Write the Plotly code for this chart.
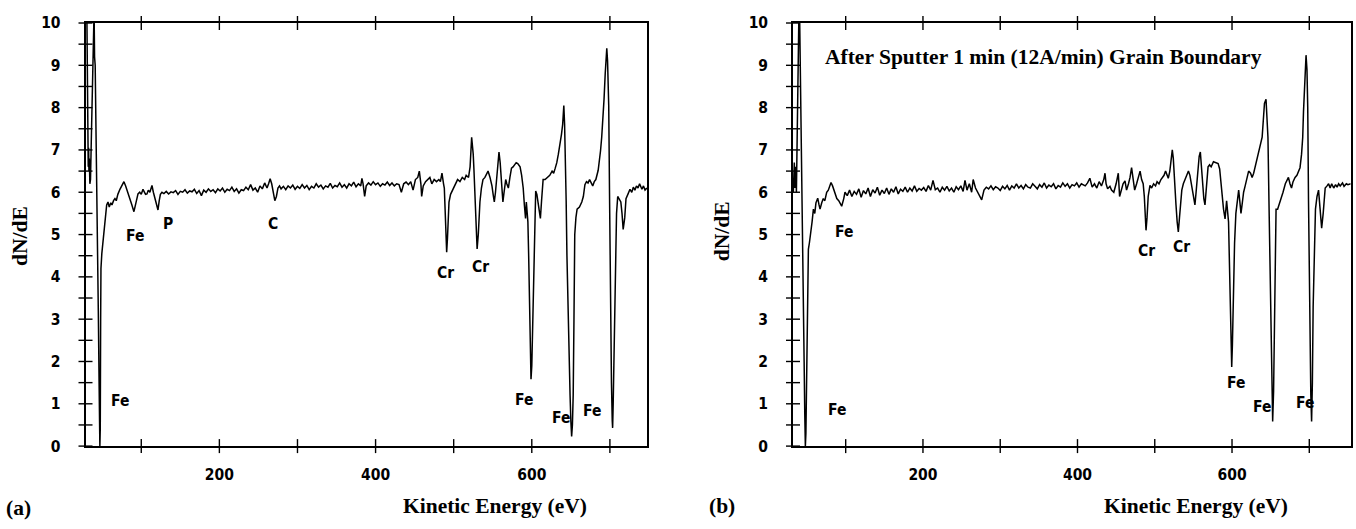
import plotly.graph_objects as go

# ---------------- data: panel (a) ----------------
energy_a = [30.3, 30.8, 31.2, 31.7, 32.1, 32.6, 33.0, 33.5, 34.2, 35.0, 36.0, 37.0, 38.0, 38.8, 39.6, 40.2, 41.0,
            42.0, 43.0, 44.0, 45.0, 46.0, 47.0, 47.5, 48.0, 48.4, 49.5, 51.3, 53.0, 54.4, 55.7, 57.4, 59.0,
            61.0, 62.5, 64.5, 66.3, 68.0, 70.0, 72.7, 75.0, 77.8, 80.0, 82.0, 84.0, 85.5, 88.0, 90.6, 93.0,
            95.8, 98.0, 100.0, 102.2, 104.0, 105.5, 107.3, 109.0, 111.0, 113.7, 115.5, 117.5, 119.5, 121.4,
            123.0, 124.5, 126.5,
            129, 132, 135, 138, 141, 144, 147, 150, 153, 156, 159, 162, 165, 168, 171, 174, 177, 180, 183,
            186, 189, 192, 195, 198, 201, 204, 207, 210, 213, 216, 219, 222, 225, 228, 231, 234, 237, 240,
            243, 246, 249, 252, 255, 258, 261, 263, 265, 267, 269, 271, 273, 275, 277, 279, 282, 285, 288,
            291, 294, 297, 300, 303, 306, 309, 312, 315, 318, 321, 324, 327, 330, 333, 336, 339, 342, 345,
            348, 351, 354, 357, 360, 363, 366, 369, 372, 375, 378, 381, 382.5, 384, 386, 388, 391, 394, 397,
            400, 403, 406, 409, 412, 415, 418, 421, 424, 427, 430, 433, 436, 439, 442, 445, 448, 451, 454,
            456, 458, 459, 461, 464, 467, 469.5, 472, 475, 478, 481, 483, 485, 487, 488, 489, 490, 491, 492,
            493, 494, 496, 499, 502, 505, 508, 511, 514, 516, 519, 521, 523, 524, 525, 526, 527, 528.5, 530,
            531.5, 533.6, 535.5, 537.5, 540, 542, 544, 546.5, 549, 550.5, 552, 553.5, 555, 556.5, 558, 559.5,
            561, 562, 563, 564.5, 566.6, 568, 570, 572, 574, 576, 578, 580, 582, 585, 587, 589, 590.5, 592,
            593, 594, 595, 596, 597, 598, 599, 600, 601, 602, 603, 604, 605, 606.5, 608, 609.5, 611, 612.5,
            614.5, 617, 620, 623, 626, 628, 630, 632, 634, 636, 638, 639.5, 641, 642, 643, 644, 645, 646,
            647.5, 649, 650, 651, 652, 653, 654, 655, 656.5, 658, 661, 664, 666, 668, 670, 672, 674, 676,
            678, 680, 682, 685, 686.5, 688, 689.5, 691, 692.5, 694, 695, 696, 697, 698.5, 699.5, 700.3, 701,
            702, 703, 703.5, 704.2, 705, 706, 707, 708.5, 710, 712, 714, 715.5, 717, 719, 720.6, 723, 725.7,
            728, 730, 732, 734, 736, 738, 741, 743, 745, 747.5]
dnde_a = [10.3, 9.2, 7.6, 7.0, 6.6, 7.05, 6.5, 6.8, 6.2, 6.3, 7.2, 8.4, 9.4, 10.3, 10.3, 9.2, 9.0,
          7.5, 6.3, 5.2, 3.2, 1.5, 0.0, 0.4, 3.0, 4.2, 4.55, 4.85, 5.2, 5.47, 5.7, 5.77, 5.65,
          5.75, 5.7, 5.8, 5.85, 5.8, 5.95, 6.07, 6.15, 6.25, 6.15, 6.05, 5.95, 5.85, 5.7, 5.54, 5.75,
          5.96, 6.0, 5.95, 6.07, 6.02, 5.95, 5.96, 6.05, 6.0, 6.16, 6.0, 5.85, 5.7, 5.58,
          5.8, 5.95, 6.0,
          5.97, 6.02, 5.96, 6.01, 5.99, 6.04, 5.95, 6.02, 6.0, 6.06, 5.98, 6.03, 6.01, 6.07, 5.97, 6.04, 5.92, 6.05, 6.0,
          6.08, 6.02, 6.06, 5.99, 6.08, 6.03, 6.1, 6.0, 6.07, 6.04, 6.12, 6.02, 6.08, 5.98, 6.06, 6.04, 6.12, 6.06, 6.18,
          6.05, 6.1, 6.0, 6.15, 6.08, 6.22, 6.1, 6.2, 6.32, 6.2, 5.95, 5.8, 5.9, 6.1, 6.15, 6.08, 6.14, 6.06, 6.15,
          6.1, 6.17, 6.07, 6.14, 6.09, 6.18, 6.1, 6.16, 6.06, 6.14, 6.1, 6.2, 6.12, 6.17, 6.08, 6.15, 6.12, 6.21, 6.1,
          6.16, 6.13, 6.22, 6.12, 6.18, 6.1, 6.2, 6.15, 6.24, 6.13, 6.2, 6.15, 6.33, 6.2, 5.9, 6.15, 6.22, 6.17, 6.25,
          6.18, 6.22, 6.14, 6.2, 6.17, 6.24, 6.16, 6.22, 6.15, 6.2, 6.18, 6.0, 6.2, 6.24, 6.18, 6.25, 6.05, 6.3, 6.35,
          6.5, 6.2, 5.9, 6.15, 6.25, 6.3, 6.35, 6.2, 6.3, 6.25, 6.3, 6.25, 6.45, 6.2, 6.1, 5.6, 4.9, 4.58, 4.9,
          5.4, 5.77, 5.95, 6.07, 6.15, 6.3, 6.25, 6.35, 6.3, 6.4, 6.35, 6.6, 7.3, 7.1, 6.9, 6.5, 6.07, 5.4, 4.66,
          5.0, 5.77, 6.1, 6.3, 6.35, 6.45, 6.5, 6.35, 6.15, 5.95, 5.77, 6.0, 6.35, 6.7, 6.95, 6.7,
          6.3, 6.0, 5.77, 6.0, 6.3, 6.2, 6.1, 6.35, 6.57, 6.6, 6.65, 6.7, 6.68, 6.6, 6.4, 6.1, 5.7, 5.38,
          5.77, 5.5, 5.3, 4.5, 3.2, 2.2, 1.58, 1.9, 2.7, 3.8, 5.0, 5.7, 6.03, 5.95, 5.77, 5.55, 5.38, 5.8,
          6.3, 6.3, 6.35, 6.4, 6.5, 6.45, 6.57, 6.7, 6.9, 7.1, 7.37, 7.6, 8.05, 7.6, 6.9, 5.8, 4.5, 3.48,
          2.3, 1.2, 0.6, 0.23, 0.5, 1.2, 3.0, 5.0, 5.4, 5.6, 5.65, 5.77, 5.9, 6.18, 6.25, 6.22, 6.3, 6.2,
          6.15, 6.25, 6.3, 6.52, 6.7, 6.98, 7.3, 7.67, 8.2, 8.8, 9.2, 9.4, 9.1, 8.05, 6.0, 4.0, 2.72,
          1.5, 0.6, 0.43, 1.0, 1.95, 3.3, 4.62, 5.5, 5.9, 5.85, 5.77, 5.5, 5.12, 5.4, 5.85, 5.95, 6.07,
          6.0, 6.12, 6.05, 6.15, 6.1, 6.2, 6.07, 6.15, 6.05, 6.1]

# ---------------- data: panel (b) ----------------
energy_b = [32.2, 32.8, 33.5, 34.2, 34.8, 35.5, 36.2, 37.0, 38.0, 38.7, 39.5, 40.5, 41.3, 41.8, 42.5, 43.5,
            44.5, 45.2, 46.2, 47.0, 47.8, 48.5, 49.5, 50.4, 51.0, 51.7, 53.0, 54.7, 56.5, 58.2, 60.0, 61.5,
            63.8, 65.5, 66.8, 69.0, 71.0, 73.0, 75.4, 77.5, 79.0, 81.0, 83.0, 84.5, 86.2, 88.5, 91.0, 93.5,
            94.8, 97.5, 99.1,
            102, 105, 108, 111, 114, 117, 120, 123, 126, 129, 132, 135, 138, 141, 144, 147, 150, 153, 156,
            159, 162, 165, 168, 171, 174, 177, 180, 183, 186, 189, 192, 195, 198, 201, 204, 207, 210, 213,
            216, 219, 222, 225, 228, 231, 234, 237, 240, 243, 246, 249, 252, 254.4, 257, 260, 263, 265, 268,
            271, 274, 276, 279, 282, 285, 288, 291, 294, 297, 300, 303, 306, 309, 312, 315, 318, 321, 324,
            327, 330, 333, 336, 339, 342, 345, 348, 351, 354, 357, 360, 363, 366, 369, 372, 375, 378, 381,
            384, 387, 390, 393, 396, 399, 402, 405, 408,
            410, 413, 416, 419, 422, 425, 428, 431, 434, 435.6, 437, 439, 442, 444, 447, 450, 452.8, 454.5,
            457, 459, 461.5, 463.5, 466, 468, 470, 472, 474, 476.5, 479, 481, 483, 485, 486.5, 487.5, 488.7,
            490, 491.5, 493.8, 496, 498.5, 501, 503, 505.5, 508, 510, 512, 514, 516, 517.5, 519.5, 521,
            522.7, 524, 525, 526, 527.5, 529, 530.5, 532, 533.5, 535, 537, 539, 541, 543.6, 545.5, 547.5,
            549.5, 552, 553.5, 555, 556, 557.5, 559, 560.5, 562, 563.5, 565, 566.5, 568, 569, 571, 573, 576,
            579, 582, 584, 585.5, 587, 589, 591, 593, 595.5, 597, 598.5, 599.6, 600.5, 601.8, 603.3, 605,
            607, 608.6, 610, 611.6, 613.3, 615, 617, 619, 621.5, 624, 626, 628, 630, 632.5, 635, 637, 639,
            640.5, 642, 644, 645, 646.5, 647.8, 649, 650.3, 651.5, 652.6, 653.8, 655, 656, 657, 659, 662,
            664, 666, 669, 671, 673, 675, 677, 679, 681.6, 684, 686, 688, 690, 691.5, 692.5, 693.7, 694.8,
            695.8, 697, 698, 699, 700, 701, 702, 703, 704, 705, 706.5, 708, 710, 712, 714, 716, 718, 720.6,
            723, 725, 727, 729, 731.6, 734, 736, 738, 740, 743, 745, 748, 750, 753.6]
dnde_b = [6.0, 6.6, 6.7, 6.1, 6.3, 6.6, 6.0, 7.0, 8.5, 10.0, 10.3, 10.0, 9.0, 8.5, 7.6, 6.0,
          4.68, 3.5, 2.0, 0.8, 0.0, 0.3, 2.0, 3.5, 4.5, 4.65, 4.8, 5.0, 5.3, 5.6, 5.5, 5.75,
          5.86, 5.7, 5.6, 5.75, 5.85, 5.8, 6.0, 6.05, 6.15, 6.23, 6.15, 6.05, 5.95, 5.85, 5.8, 5.72,
          5.67, 5.85, 6.0,
          5.92, 6.05, 5.9, 6.02, 5.95, 6.08, 5.88, 6.04, 5.96, 6.1, 5.9, 6.06, 5.98, 6.12, 5.93, 6.05, 5.97, 6.1, 5.95,
          6.08, 6.0, 6.13, 5.96, 6.07, 6.02, 6.12, 6.0, 6.1, 6.03, 6.15, 6.02, 6.09, 6.05, 6.11, 6.02, 6.16, 6.05, 6.28,
          6.06, 6.1, 6.0, 6.12, 6.05, 6.14, 6.03, 6.1, 6.0, 6.13, 6.06, 6.15, 6.02, 6.28, 6.05, 6.2, 6.0, 6.3, 6.1,
          6.0, 5.9, 5.82, 6.05, 6.12, 6.08, 6.15, 6.06, 6.13, 6.1, 6.04, 6.14, 6.08, 6.16, 6.05, 6.15, 6.1, 6.2, 6.1,
          6.16, 6.08, 6.18, 6.12, 6.1, 6.2, 6.14, 6.08, 6.18, 6.12, 6.22, 6.1, 6.17, 6.13, 6.2, 6.08, 6.16, 6.12, 6.22,
          6.14, 6.2, 6.1, 6.18, 6.15, 6.22, 6.12, 6.2, 6.16,
          6.15, 6.22, 6.33, 6.12, 6.2, 6.1, 6.25, 6.15, 6.3, 6.45, 6.2, 6.08, 6.14, 6.05, 6.0, 6.2, 6.45, 5.9,
          6.1, 6.2, 6.27, 6.05, 6.2, 6.35, 6.58, 6.3, 6.05, 6.2, 6.35, 6.5, 6.3, 6.2, 5.9, 5.4, 5.1,
          5.4, 5.9, 6.16, 6.1, 6.2, 6.15, 6.25, 6.2, 6.3, 6.35, 6.4, 6.5, 6.4, 6.33, 6.5, 6.8,
          7.0, 6.8, 6.4, 6.05, 5.7, 5.3, 5.06, 5.4, 5.8, 6.05, 6.2, 6.3, 6.4, 6.5, 6.4, 6.2,
          6.0, 5.7, 6.0, 6.4, 6.7, 6.85, 6.95, 6.6, 6.05, 5.85, 5.7, 6.1, 6.45, 6.6, 6.65, 6.6, 6.72,
          6.7, 6.68, 6.55, 6.2, 5.9, 5.6, 5.37, 5.8, 5.3, 4.2, 2.8, 1.87, 2.4, 3.6, 4.8, 5.5,
          5.85, 6.05, 5.8, 5.5, 5.75, 6.0, 6.15, 6.3, 6.5, 6.45, 6.35, 6.45, 6.6, 6.8, 7.0, 7.15, 7.3,
          7.7, 8.1, 8.2, 7.9, 7.3, 5.8, 4.2, 2.5, 1.2, 0.58, 1.3, 2.7, 4.3, 5.6, 5.6, 5.75,
          5.85, 6.0, 6.2, 6.3, 6.35, 6.2, 6.1, 6.25, 6.35, 6.4, 6.5, 6.58, 6.9, 7.3, 7.9, 8.5, 9.0,
          9.24, 8.9, 8.0, 5.8, 3.6, 2.3, 1.2, 0.58, 1.5, 3.3, 4.8, 5.6, 5.9, 6.05, 5.6, 5.15, 5.5, 6.1,
          6.15, 6.2, 6.1, 6.2, 6.1, 6.18, 6.12, 6.2, 6.15, 6.22, 6.14, 6.2, 6.18, 6.2]

# element labels (text, energy, dN/dE) per panel
labels_a = [("Fe", 72.7, 1.06), ("Fe", 91.9, 4.97), ("P", 134.2, 5.26), ("C", 268.6, 5.26),
            ("Cr", 490.0, 4.1), ("Cr", 533.7, 4.24), ("Fe", 590.0, 1.09), ("Fe", 637.4, 0.67),
            ("Fe", 677.0, 0.83)]
labels_b = [("Fe", 88.6, 0.85), ("Fe", 97.7, 5.06), ("Cr", 489.5, 4.6), ("Cr", 534.8, 4.7),
            ("Fe", 605.0, 1.49), ("Fe", 639.4, 0.92), ("Fe", 694.0, 1.01)]

x_tickvals = [100, 200, 300, 400, 500, 600, 700]
x_ticktext = ["", "200", "", "400", "", "600", ""]
y_tickvals = [i * 0.5 for i in range(21)]
y_ticktext = [str(int(v)) if v == int(v) else "" for v in y_tickvals]

panel_title_b = "After Sputter 1 min (12A/min) Grain Boundary"

# ---------------- figure ----------------
W, H = 1356, 529
TICKFONT = dict(family="Liberation Sans Narrow, DejaVu Sans Condensed, Arial Narrow, sans-serif",
                size=15.5, color="black", weight="bold")
LABFONT = dict(family="Liberation Sans Narrow, DejaVu Sans Condensed, Arial Narrow, sans-serif",
               size=15.5, color="black", weight="bold")
SERIF = dict(family="Liberation Serif, Times New Roman, serif", size=21.5, color="black", weight="bold")

dom_a = [85.5 / W, 647 / W]
dom_b = [793 / W, 1350.7 / W]
dom_y = [(H - 452.5) / H, (H - 14.5) / H]
range_a = [28.6, 747.5]
range_b = [31.8, 753.6]
range_y = [0, 10]

fig = go.Figure()

def add_panel(energy, dnde, xname, yname, xrange_):
    fig.add_trace(go.Scatter(x=energy, y=dnde, mode="lines", xaxis=xname, yaxis=yname,
                             line=dict(color="black", width=1.5), showlegend=False, hoverinfo="skip"))
    # crossing tick marks on bottom / top frame (from the tick value lists)
    tick_style = dict(color="black", size=10, line=dict(color="black", width=1.4))
    fig.add_trace(go.Scatter(x=x_tickvals + x_tickvals,
                             y=[range_y[0]] * len(x_tickvals) + [range_y[1]] * len(x_tickvals),
                             mode="markers", xaxis=xname, yaxis=yname, cliponaxis=False,
                             marker=dict(symbol="line-ns", **tick_style),
                             showlegend=False, hoverinfo="skip"))
    # crossing tick marks on left frame
    fig.add_trace(go.Scatter(x=[xrange_[0]] * len(y_tickvals), y=y_tickvals,
                             mode="markers", xaxis=xname, yaxis=yname, cliponaxis=False,
                             marker=dict(symbol="line-ew", **tick_style),
                             showlegend=False, hoverinfo="skip"))

add_panel(energy_a, dnde_a, "x", "y", range_a)
add_panel(energy_b, dnde_b, "x2", "y2", range_b)

def xax(domain, rng, anchor):
    return dict(domain=domain, range=rng, anchor=anchor, showgrid=False, zeroline=False,
                showline=True, linecolor="black", linewidth=1.7, mirror=True,
                tickmode="array", tickvals=x_tickvals, ticktext=x_ticktext, ticks="",
                tickfont=TICKFONT, ticklabelstandoff=13)

def yax(anchor):
    return dict(domain=dom_y, range=range_y, anchor=anchor, showgrid=False, zeroline=False,
                showline=True, linecolor="black", linewidth=1.7, mirror=True,
                tickmode="array", tickvals=y_tickvals, ticktext=y_ticktext, ticks="",
                tickfont=TICKFONT, ticklabelstandoff=20)

fig.update_layout(
    width=W, height=H, margin=dict(l=0, r=0, t=0, b=0),
    paper_bgcolor="white", plot_bgcolor="white", showlegend=False,
    xaxis=xax(dom_a, range_a, "y"),
    yaxis=yax("x"),
    xaxis2=xax(dom_b, range_b, "y2"),
    yaxis2=yax("x2"),
)

ann = []
for t, e, v in labels_a:
    ann.append(dict(text=t, x=e, y=v, xref="x", yref="y", showarrow=False, font=LABFONT))
for t, e, v in labels_b:
    ann.append(dict(text=t, x=e, y=v, xref="x2", yref="y2", showarrow=False, font=LABFONT))

def paper(px, py, text, angle=0, xanchor="center"):
    return dict(text=text, x=px / W, y=1 - py / H, xref="paper", yref="paper", showarrow=False,
                font=SERIF, textangle=angle, xanchor=xanchor, yanchor="middle")

ann += [
    paper(20, 235, "dN/dE", angle=-90),
    paper(722, 230, "dN/dE", angle=-90),
    paper(18, 517, "(a)"),
    paper(722, 515, "(b)"),
    paper(495, 515, "Kinetic Energy (eV)"),
    paper(1196, 515, "Kinetic Energy (eV)"),
    paper(823, 50, panel_title_b, xanchor="left"),
]
fig.update_layout(annotations=ann)

fig.write_html("out.html")
